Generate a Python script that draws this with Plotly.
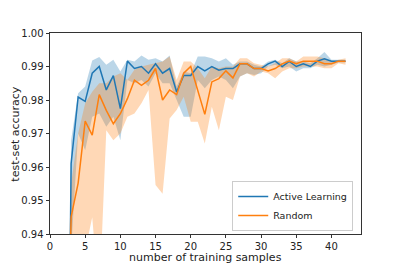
import plotly.graph_objects as go

samples = list(range(2, 43))

active_mean = [0.750, 0.961, 0.9809, 0.9796, 0.988, 0.990, 0.983, 0.9873, 0.9774, 0.9916,
               0.9894, 0.990, 0.988, 0.9908, 0.988, 0.9894, 0.9824, 0.9873, 0.9873, 0.990,
               0.9887, 0.990, 0.9889, 0.9894, 0.9894, 0.9908, 0.9908, 0.9894, 0.9894, 0.9908,
               0.9916, 0.990, 0.9915, 0.990, 0.9908, 0.990, 0.9916, 0.9923, 0.9916, 0.9916, 0.9916]
active_lower = [0.600, 0.935, 0.970, 0.965, 0.975, 0.976, 0.972, 0.975, 0.968, 0.986,
                0.985, 0.986, 0.984, 0.988, 0.985, 0.985, 0.980, 0.975, 0.975, 0.986,
                0.9835, 0.986, 0.987, 0.986, 0.9835, 0.987, 0.988, 0.9875, 0.988, 0.990,
                0.9905, 0.9895, 0.990, 0.9885, 0.9895, 0.9895, 0.9905, 0.990, 0.9905, 0.9912, 0.9912]
active_upper = [0.800, 0.968, 0.982, 0.984, 0.9918, 0.9928, 0.9905, 0.992, 0.9885, 0.992,
                0.9915, 0.9933, 0.992, 0.9925, 0.9915, 0.9933, 0.984, 0.9885, 0.988, 0.993,
                0.993, 0.9925, 0.9915, 0.9925, 0.9905, 0.9915, 0.9915, 0.9905, 0.990, 0.9915,
                0.992, 0.991, 0.9925, 0.9915, 0.9915, 0.991, 0.9925, 0.9943, 0.992, 0.992, 0.992]

random_mean = [0.845, 0.9451, 0.9552, 0.9737, 0.9695, 0.9816, 0.9769, 0.9729, 0.9759, 0.9804,
               0.9859, 0.9844, 0.9859, 0.9894, 0.980, 0.983, 0.9816, 0.988, 0.990, 0.983,
               0.9757, 0.9854, 0.9864, 0.9887, 0.9866, 0.9908, 0.9908, 0.9894, 0.9894, 0.9887,
               0.9894, 0.9908, 0.9916, 0.9908, 0.9916, 0.9916, 0.9916, 0.9908, 0.9908, 0.9916, 0.9916]
random_lower = [0.700, 0.910, 0.925, 0.935, 0.945, 0.920, 0.971, 0.968, 0.970, 0.975,
                0.976, 0.979, 0.983, 0.9546, 0.952, 0.9745, 0.977, 0.981, 0.9735, 0.9735,
                0.967, 0.978, 0.971, 0.981, 0.980, 0.987, 0.988, 0.987, 0.9885, 0.988,
                0.9865, 0.9885, 0.9895, 0.9895, 0.990, 0.990, 0.990, 0.9895, 0.9895, 0.991, 0.9905]
random_upper = [0.8925, 0.955, 0.970, 0.979, 0.9825, 0.985, 0.985, 0.987, 0.988, 0.986,
                0.989, 0.990, 0.9905, 0.991, 0.9915, 0.993, 0.986, 0.9915, 0.9915, 0.9895,
                0.9865, 0.990, 0.9895, 0.990, 0.990, 0.9925, 0.9925, 0.991, 0.9905, 0.990,
                0.991, 0.9925, 0.9925, 0.9915, 0.993, 0.993, 0.993, 0.9925, 0.9915, 0.992, 0.9925]

x_ticks = [0, 5, 10, 15, 20, 25, 30, 35, 40]
y_ticks = [0.94, 0.95, 0.96, 0.97, 0.98, 0.99, 1.00]

BLUE = "#1f77b4"
ORANGE = "#ff7f0e"

fig = go.Figure()

def band(lower, upper, color_rgba):
    fig.add_trace(go.Scatter(x=samples, y=lower, mode="lines", line=dict(width=0),
                             showlegend=False, hoverinfo="skip"))
    fig.add_trace(go.Scatter(x=samples, y=upper, mode="lines", line=dict(width=0),
                             fill="tonexty", fillcolor=color_rgba,
                             showlegend=False, hoverinfo="skip"))

band(active_lower, active_upper, "rgba(31,119,180,0.3)")
band(random_lower, random_upper, "rgba(255,127,14,0.3)")

fig.add_trace(go.Scatter(x=samples, y=active_mean, mode="lines", name="Active Learning",
                         line=dict(color=BLUE, width=1.5)))
fig.add_trace(go.Scatter(x=samples, y=random_mean, mode="lines", name="Random",
                         line=dict(color=ORANGE, width=1.5)))

axis_common = dict(showgrid=False, zeroline=False, showline=True, mirror=True,
                   linecolor="#333", linewidth=0.8, ticks="outside", ticklen=3.5,
                   tickwidth=0.8, tickcolor="#333", automargin=False,
                   tickfont=dict(family="DejaVu Sans", size=10, color="#222"))

# page body adds an 8px offset; the figure is sized so the plot area lands at x 50-361, y 33-234
fig.update_layout(
    width=392, height=259,
    margin=dict(l=42, r=39, t=25, b=33),
    paper_bgcolor="white", plot_bgcolor="white",
    font=dict(family="DejaVu Sans", color="#222"),
    xaxis=dict(range=[0, 44.2], tickvals=x_ticks, ticktext=[str(v) for v in x_ticks],
               **axis_common),
    yaxis=dict(range=[0.94, 1.0], tickvals=y_ticks, ticktext=[f"{v:.2f}" for v in y_ticks],
               **axis_common),
    legend=dict(x=0.975, y=0.015, xanchor="right", yanchor="bottom",
                bgcolor="rgba(255,255,255,0.8)", bordercolor="#ccc", borderwidth=1,
                font=dict(family="DejaVu Sans", size=9.5, color="#222"),
                traceorder="normal", tracegroupgap=0, itemwidth=30),
    annotations=[
        dict(text="number of training samples", xref="paper", yref="paper",
             x=0.5, y=-0.119, xanchor="center", yanchor="middle", showarrow=False,
             font=dict(family="DejaVu Sans", size=11, color="#222")),
        dict(text="test-set accuracy", xref="paper", yref="paper", textangle=-90,
             x=-0.112, y=0.5, xanchor="center", yanchor="middle", showarrow=False,
             font=dict(family="DejaVu Sans", size=11, color="#222")),
    ],
)

fig.write_html("out.html")
